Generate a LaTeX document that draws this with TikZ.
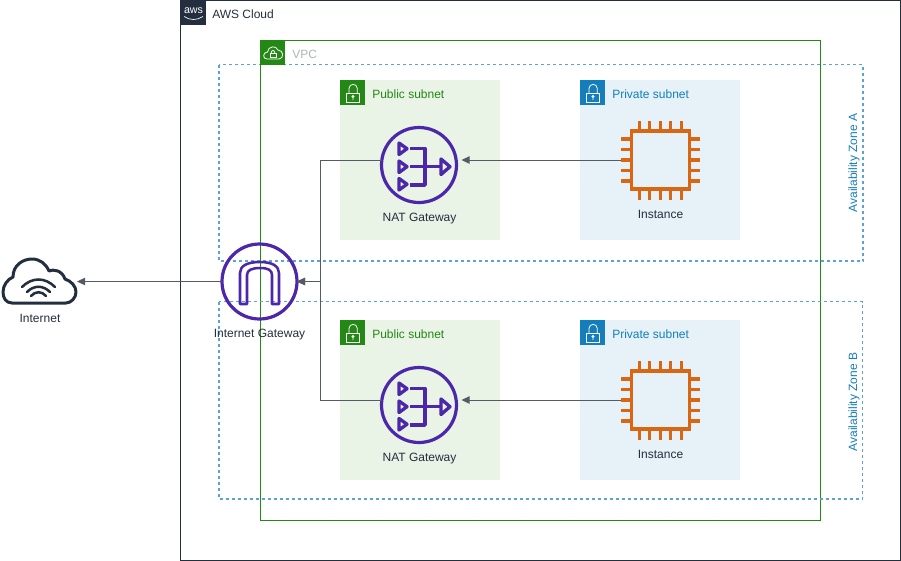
\documentclass[tikz,border=0pt]{standalone}
\usepackage{fontspec}
\setmainfont{Liberation Sans}
\usetikzlibrary{arrows.meta}

\definecolor{awsdark}{HTML}{232F3E}
\definecolor{vpcgreen}{HTML}{248814}
\definecolor{vpcgrey}{HTML}{AAB7B8}
\definecolor{zoneblue}{HTML}{147EBA}
\definecolor{pubfill}{HTML}{E9F3E6}
\definecolor{privfill}{HTML}{E6F2F8}
\definecolor{natpurple}{HTML}{4D27AA}
\definecolor{chiporange}{HTML}{D86613}
\definecolor{linegrey}{HTML}{545B64}

\tikzset{
    label/.style={font=\fontsize{9}{11}\selectfont, inner sep=0pt, text=awsdark},
    tag/.style={label, anchor=west},
    zonebox/.style={draw=zoneblue!70, line width=0.8pt, dash pattern=on 2.25pt off 2.25pt},
    zonetag/.style={label, text=zoneblue, rotate=90},
    iconring/.style={circle, draw=natpurple, line width=2.4pt, minimum size=56.25pt, inner sep=0pt, outer sep=0pt},
    icon line/.style={draw=natpurple, line width=2.5pt, line join=round},
    chipbody/.style={draw=chiporange, line width=2.4pt, minimum size=43.5pt, inner sep=0pt, outer sep=7.5pt},
    chip pin/.style={draw=chiporange, line width=2.4pt},
    conn/.style={draw=linegrey, line width=0.75pt, -{Triangle[width=5.5pt,length=6pt]}},
    lockicon/.pic={
        \fill[pic actions] (0,0) rectangle (25,25);
        \draw[white, line width=0.6pt] (6.7,13.3) rectangle (19.3,22.3);
        \draw[white, line width=0.6pt] (9,13.3) -- (9,8.5) .. controls (9,3) and (17.3,3) .. (17.3,8.5) -- (17.3,13.3);
        \draw[white, line width=0.6pt] (13,16.5) circle (1) (13,17.5) -- (13,20);
    },
}

\begin{document}
\begin{tikzpicture}[x=0.75pt, y=-0.75pt]
    \useasboundingbox (0,0) rectangle (901,561);

% aws cloud
    \draw[awsdark, line width=0.75pt] (180.5,0.5) rectangle (900.5,560.5);
    \fill[awsdark] (181,0) rectangle (206,25);
    \node[label, text=white, font=\fontsize{8}{8}\selectfont] (awslogo) at (193.5,10.5) {aws};
    \draw[white, line width=0.5pt] (184,16.5) .. controls (190,20.5) and (197,20.5) .. (203,16.5);
    \node[tag] (cloudtag) at (212,14.5) {AWS Cloud};

% vpc
    \draw[vpcgreen, line width=0.75pt] (260.5,40.5) rectangle (820.5,520.5);
    \node[tag, text=vpcgrey] (vpctag) at (292,54.5) {VPC};

% availability zones
    \draw[zonebox] (219,64.5) rectangle (863,261);
    \node[zonetag] (zonetaga) at (854,163) {Availability Zone A};
    \draw[zonebox] (219,301.5) rectangle (862.5,499);
    \node[zonetag] (zonetagb) at (854,402) {Availability Zone B};

% vpc icon, over the zone line
    \fill[vpcgreen] (260,40) rectangle (285,65);
    \draw[white, line width=0.6pt] (267,59) .. controls (262,59) and (263,52) .. (267.5,52)
        .. controls (268,46) and (276,45) .. (278,50) .. controls (284,50) and (284,59) .. (279,59) -- cycle;
    \draw[white, line width=0.6pt] (270,53.5) rectangle (276,57.5);
    \draw[white, line width=0.6pt] (271,53.5) .. controls (271,49.5) and (275,49.5) .. (275,53.5);

% the two zones have the same content
    \foreach \zone/\yy in {a/0,b/240} {
    \begin{scope}[shift={(0,\yy)}]
    % public subnet
        \fill[pubfill] (340,80) rectangle (500,240);
        \pic[fill=vpcgreen] at (340,80) {lockicon};
        \node[tag, text=vpcgreen] (pubtag\zone) at (372,94.5) {Public subnet};
    % private subnet
        \fill[privfill] (580,80) rectangle (740,240);
        \pic[fill=zoneblue] at (580,80) {lockicon};
        \node[tag, text=zoneblue] (privtag\zone) at (612,94.5) {Private subnet};

    % nat gateway
        \node[iconring] (nat\zone) at (419,165) {};
        \draw[icon line] (399,143) -- (399,154.5) -- (407,148.7) -- cycle;
        \draw[icon line] (399,161) -- (399,172.5) -- (407,166.7) -- cycle;
        \draw[icon line] (399,178.5) -- (399,190) -- (407,184.2) -- cycle;
        \draw[icon line] (410,148.5) -- (425,148.5) -- (425,185) -- (410,185);
        \draw[icon line] (410,166.7) -- (440,166.7);
        \draw[icon line] (441,159) -- (441,174.5) -- (450,166.7) -- cycle;
        \node[label] (nattag\zone) at (419.5,219) {NAT Gateway};

    % instance
        \node[chipbody] (inst\zone) at (660.3,160) {};
        \foreach \p in {-21,-10.5,0,10.5,21} {
            \draw[chip pin] (660.3+\p,121) -- (660.3+\p,130);
            \draw[chip pin] (660.3+\p,190) -- (660.3+\p,200);
            \draw[chip pin] (621,160+\p) -- (630,160+\p);
            \draw[chip pin] (691,160+\p) -- (700,160+\p);
        }
        \node[label] (insttag\zone) at (660.5,214.5) {Instance};
    \end{scope}
    }

% internet gateway
    \node[iconring] (igw) at (259.5,281.5) {};
    \draw[natpurple, line width=1.9pt, line join=round] (240,304) -- (240,273)
        .. controls (240,266) and (247,262) .. (260,262)
        .. controls (272,262) and (279,266) .. (279,273) -- (279,304) -- (272,304) -- (272,275)
        .. controls (272,270) and (268,268) .. (260,268)
        .. controls (252,268) and (247,270) .. (247,275) -- (247,304) -- cycle;
    \node[label] (igwtag) at (259.5,334.5) {Internet Gateway};

% internet
    \node[minimum width=55.5pt, minimum height=34.5pt, inner sep=0pt, outer sep=0pt] (internet) at (40,281.5) {};
    \draw[awsdark, line width=2.25pt, line join=round] (12,303) .. controls (6,303) and (3,298) .. (3,292)
        .. controls (3,285) and (8,279) .. (13,277) .. controls (13,265) and (23,259) .. (32,259)
        .. controls (40,259) and (46,264) .. (49,271) .. controls (53,269) and (62,270) .. (65,279)
        .. controls (71,281) and (76,286) .. (76,292) .. controls (76,298) and (71,303) .. (66,303) -- cycle;
    \draw[awsdark, line width=1.9pt, line cap=round] (22,287) .. controls (32,277) and (45,277) .. (55,287);
    \draw[awsdark, line width=1.9pt, line cap=round] (27,292) .. controls (34,285) and (43,285) .. (50,292);
    \draw[awsdark, line width=1.9pt, line cap=round] (31,296) .. controls (35,291) and (42,291) .. (46,296);
    \node[label] (internettag) at (40,318) {Internet};

% connectors
    \coordinate (join) at (320.5,281.5);
    \draw[conn, shorten >=3.75pt] (insta.west) -- (nata.east |- insta.west);
    \draw[conn, shorten >=3.75pt] (instb.west) -- (natb.east |- instb.west);
    \draw[conn] (nata.west |- insta.west) -| (join) -- (igw.east);
    \draw[conn] (natb.west |- instb.west) -| (join) -- (igw.east);
    \draw[conn] (igw.west) -- (internet.east);

\end{tikzpicture}
\end{document}
